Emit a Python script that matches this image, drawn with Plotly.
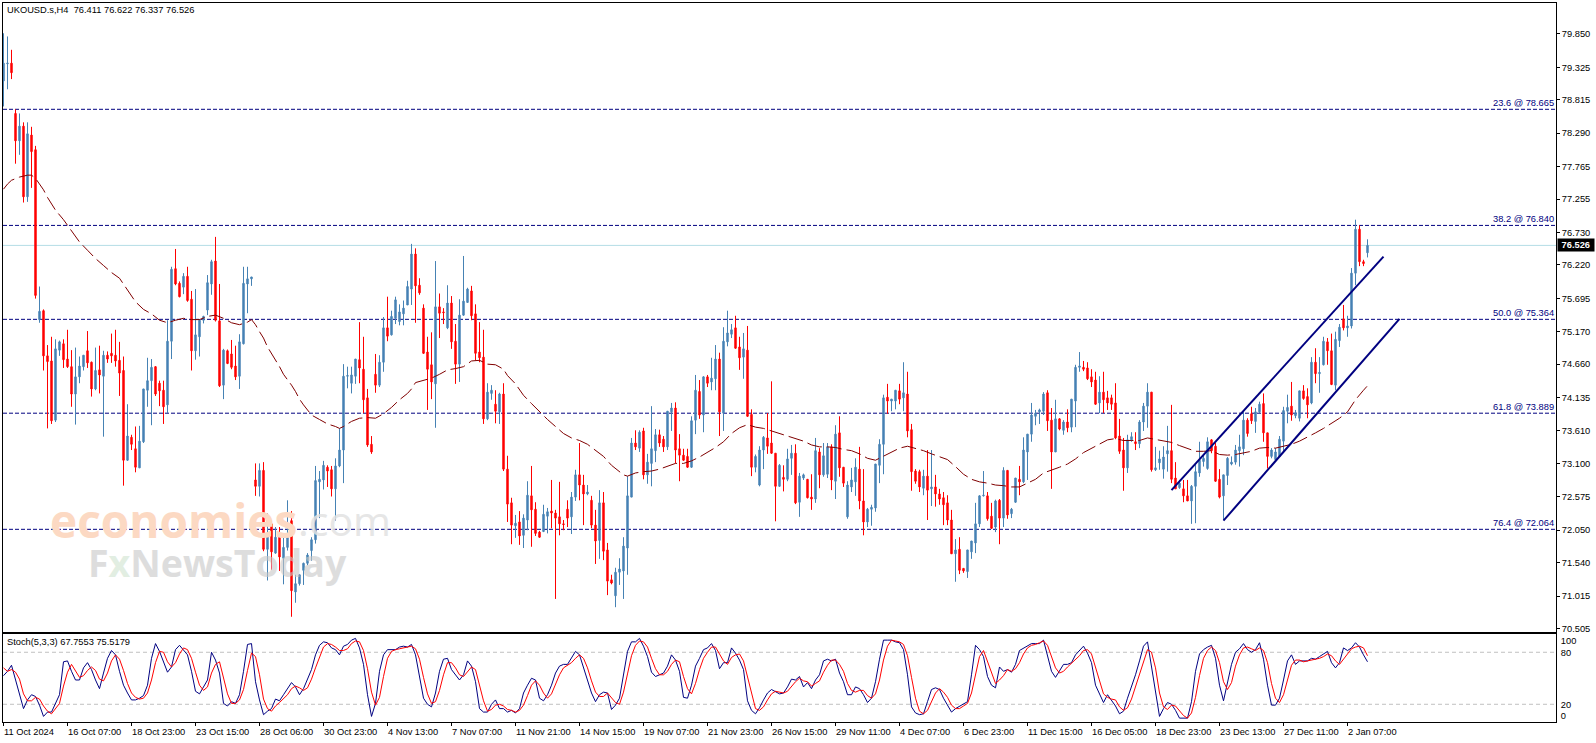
import plotly.graph_objects as go

opens = [
79.11,79.38,79.39,78.60,78.17,78.40,77.29,78.26,78.03,75.36,
75.50,74.79,74.71,73.78,74.88,74.98,74.74,74.62,74.19,74.46,
74.62,74.87,74.69,74.27,74.57,74.47,74.80,74.83,74.80,74.72,
74.56,73.15,73.51,73.33,73.03,73.44,74.25,74.40,74.62,74.36,
74.25,74.02,75.02,76.16,75.93,75.87,76.04,75.68,74.87,75.09,
75.35,75.51,75.92,76.28,75.34,74.33,74.87,74.82,74.63,74.47,
74.98,75.92,76.00,72.84,72.74,72.99,71.75,72.15,71.69,71.94,
71.61,71.78,72.20,71.08,71.21,71.42,71.53,71.73,71.90,72.81,
72.84,73.04,73.00,72.70,73.06,73.31,74.47,74.36,74.47,74.73,
74.58,74.13,73.40,74.50,74.33,74.69,75.23,75.12,75.38,75.33,
75.45,75.59,75.84,76.39,75.90,75.54,74.85,74.65,74.35,75.56,
75.48,75.23,75.62,75.02,74.66,75.43,75.63,75.81,75.45,74.85,
74.77,73.80,74.20,74.03,73.91,74.19,73.01,72.48,72.12,72.18,
71.97,72.21,72.59,72.38,72.02,72.03,72.27,72.35,72.32,72.26,
72.15,72.38,72.26,72.57,72.92,72.76,72.62,72.52,72.13,71.89,
72.48,71.74,71.27,71.02,71.39,71.41,71.77,72.57,73.42,73.34,
73.61,72.92,73.10,73.30,73.55,73.48,73.36,73.91,73.97,73.33,
73.23,73.21,73.04,73.78,74.23,73.86,74.46,74.38,74.43,74.74,
73.89,75.01,75.13,75.23,74.93,74.77,74.88,73.87,73.04,72.76,
73.31,73.50,73.42,73.26,72.74,72.88,72.85,73.18,73.26,72.49,
72.87,72.85,72.57,72.54,73.28,72.92,72.93,73.36,72.82,73.58,
73.04,72.26,72.73,72.81,73.01,72.51,72.18,72.38,72.40,73.07,
73.40,74.14,74.08,74.08,74.24,74.13,74.19,73.63,72.98,72.97,
72.71,72.90,72.70,72.73,72.62,72.56,72.48,72.21,71.68,71.75,
71.45,71.40,71.71,71.85,72.15,72.59,72.59,72.27,72.10,72.52,
72.24,72.99,72.31,72.49,72.85,72.81,73.28,73.56,73.84,73.91,
73.92,74.21,73.78,73.28,73.80,73.62,73.75,73.67,74.08,74.61,
74.61,74.60,74.46,74.41,74.05,74.22,74.13,74.13,74.05,73.53,
73.31,73.03,73.47,73.44,73.41,73.75,74.00,74.22,73.00,73.11,
73.01,73.25,73.30,72.87,72.72,72.70,72.59,72.51,72.74,72.95,
73.13,73.02,73.47,73.37,72.85,72.59,72.91,73.09,73.12,73.30,
73.33,73.78,73.88,73.76,73.91,74.04,73.58,73.21,73.16,73.21,
73.45,73.92,74.00,73.85,73.81,74.24,74.15,74.05,74.69,74.51,
74.65,75.01,74.87,74.33,75.03,75.37,75.23,75.26,76.09,76.78,
76.27,76.411]

highs = [
79.86,79.81,79.60,78.665,78.60,78.46,78.46,78.39,78.09,75.88,
75.52,74.96,75.09,75.05,75.03,75.05,75.20,74.88,74.92,74.78,
74.80,75.18,74.70,74.92,74.95,74.87,74.86,75.14,75.20,75.01,
74.78,74.03,73.55,73.68,73.69,74.27,74.76,74.74,74.63,74.40,
74.40,75.35,76.19,76.47,75.96,76.09,76.19,75.81,75.84,75.37,
75.42,76.06,76.30,76.66,75.92,74.90,74.89,75.04,74.95,75.13,
76.19,76.19,76.03,73.10,73.10,73.12,72.32,72.20,72.10,72.10,
71.95,72.52,72.35,71.35,71.36,71.54,71.69,71.94,73.06,72.98,
73.14,73.07,73.06,73.18,73.65,74.66,74.62,74.62,74.74,75.32,
75.09,74.27,73.53,74.82,74.80,75.40,75.72,75.50,75.72,75.60,
75.66,75.97,76.55,76.48,76.01,75.60,75.09,75.16,76.28,75.77,
75.54,75.90,75.73,75.29,75.68,76.36,75.86,75.89,75.60,75.32,
75.20,74.36,74.33,74.25,74.21,74.36,73.22,72.56,72.29,72.35,
72.30,72.82,73.06,72.49,72.04,72.45,72.40,72.84,72.37,72.81,
72.21,72.52,72.65,73.00,73.42,72.92,72.76,72.59,72.37,72.68,
72.65,71.85,71.35,71.46,71.61,71.94,72.90,73.50,73.62,73.62,
73.66,73.25,74.00,73.64,73.63,73.53,73.92,74.05,74.06,73.56,
73.33,73.33,73.84,74.49,74.41,74.47,74.49,74.76,74.96,74.84,
75.24,75.50,75.29,75.42,75.09,75.15,75.26,73.95,73.24,73.37,
73.53,73.89,74.39,73.26,73.09,73.07,73.33,73.39,73.40,72.95,
72.94,72.85,72.93,73.50,73.34,73.42,73.42,73.40,73.70,73.84,
73.04,72.82,73.03,73.18,73.36,73.01,72.40,72.45,73.09,73.48,
74.18,74.35,74.11,74.25,74.35,74.69,74.54,73.72,73.01,73.00,
73.00,73.31,73.31,72.92,72.70,72.65,72.60,72.37,71.91,71.94,
71.45,71.74,71.88,72.48,72.60,72.98,72.65,72.48,72.53,72.54,
73.04,72.99,72.40,72.87,73.06,73.51,73.56,74.05,73.94,73.96,
74.22,74.25,73.97,74.10,73.81,73.78,73.95,74.11,74.65,74.85,
74.71,74.69,74.58,74.54,74.47,74.54,74.24,74.18,74.36,73.80,
73.50,73.55,73.59,73.59,73.78,74.05,74.36,74.22,73.36,73.30,
73.37,73.69,74.02,73.12,72.84,72.84,72.84,72.76,73.09,73.44,
73.23,73.51,73.48,73.42,73.01,72.92,73.20,73.21,73.39,73.55,
73.91,73.81,73.99,73.97,74.07,74.20,73.58,73.34,73.34,73.53,
73.99,74.18,74.38,73.94,74.24,74.33,74.28,74.77,74.91,74.77,
75.09,75.07,75.14,75.17,75.29,75.59,75.42,76.17,76.93,76.84,
76.30,76.622]

lows = [
78.71,78.98,79.14,77.81,77.95,77.20,77.21,77.43,75.69,75.31,
74.56,73.65,73.72,73.75,74.79,74.60,74.60,73.99,73.71,74.36,
74.56,74.60,74.15,74.25,74.20,73.52,74.68,74.68,74.62,74.16,
72.75,73.14,73.31,72.96,73.03,73.42,73.99,73.70,74.16,74.00,
73.72,73.89,74.74,75.90,75.71,75.76,75.64,74.56,74.73,74.78,
75.30,75.43,75.75,75.33,74.30,74.11,74.66,74.58,74.41,74.27,
74.97,75.46,75.89,72.59,72.58,71.72,71.26,71.43,71.68,71.41,
71.20,71.73,70.69,70.91,71.18,71.19,71.50,71.57,71.84,72.24,
72.69,72.73,72.58,72.20,73.04,72.79,74.28,74.20,74.35,74.36,
73.89,73.36,73.25,74.21,74.30,74.54,75.02,75.11,75.29,75.27,
75.27,75.59,75.59,75.31,75.75,74.82,73.94,74.11,73.66,75.07,
75.29,75.21,74.90,74.35,74.38,75.42,75.63,75.35,74.72,74.69,
73.72,73.78,74.10,73.73,73.72,72.98,72.18,71.83,71.93,71.82,
71.77,72.05,71.79,71.96,71.93,72.02,72.00,72.08,70.97,71.97,
72.05,72.10,71.99,72.51,72.52,72.13,72.60,72.08,71.52,71.60,
71.58,71.03,71.20,70.84,71.19,70.97,71.35,72.57,73.31,73.28,
72.85,72.78,72.74,73.12,73.36,73.28,73.31,73.61,73.10,72.82,
73.14,73.03,73.03,73.56,73.80,73.59,74.30,74.25,74.25,73.53,
73.61,74.94,75.07,74.90,74.57,74.43,73.83,72.90,72.96,72.74,
73.01,73.25,73.25,72.19,72.73,72.66,72.82,72.92,72.46,72.26,
72.84,72.55,72.37,72.48,72.71,72.89,72.87,72.68,72.54,72.89,
72.73,72.23,72.65,72.59,72.38,71.97,72.10,72.12,72.34,72.79,
72.93,73.88,73.92,73.95,74.03,73.92,73.51,72.67,72.78,72.65,
72.60,72.21,72.43,72.42,72.45,72.13,72.13,71.68,71.24,71.36,
71.38,71.30,71.60,71.69,72.10,72.58,72.20,72.07,72.02,71.83,
72.10,72.23,72.24,72.48,72.60,72.79,72.84,73.44,73.70,73.72,
73.86,73.61,72.70,73.28,73.62,73.55,73.59,73.59,73.67,74.54,
74.55,74.41,74.30,74.02,73.89,73.89,73.94,73.94,73.48,73.25,
72.67,72.95,73.44,73.31,73.34,73.61,73.66,72.97,72.98,73.00,
72.86,72.97,72.79,72.70,72.70,72.49,72.51,72.15,72.16,72.89,
73.05,73.00,73.26,72.81,72.55,72.21,72.76,73.07,73.08,73.05,
73.23,73.52,73.72,73.58,73.89,73.44,73.02,73.18,73.15,73.21,
73.28,73.73,73.77,73.81,73.76,74.10,73.81,74.03,74.36,74.21,
74.64,74.65,74.33,74.25,74.93,75.19,75.09,75.22,75.90,76.20,
76.20,76.337]

closes = [
79.39,79.39,79.24,78.17,78.40,77.29,78.28,78.00,75.74,75.49,
74.79,74.70,73.77,74.90,75.01,74.73,74.62,74.19,74.46,74.63,
74.80,74.68,74.27,74.56,74.49,74.80,74.74,74.79,74.71,74.52,
73.15,73.53,73.40,73.04,73.45,74.27,74.40,74.61,74.19,74.24,
73.99,75.02,76.15,75.92,75.72,76.04,75.66,74.87,75.12,75.35,
75.41,75.94,76.27,75.35,74.32,74.88,74.67,74.61,74.46,75.01,
75.93,76.00,76.03,72.74,72.99,71.75,72.00,71.71,71.94,71.63,
71.78,71.94,71.10,71.21,71.35,71.53,71.66,71.90,72.83,72.85,
73.07,72.98,72.70,73.06,73.31,74.47,74.48,74.49,74.74,74.60,
74.10,73.39,73.28,74.33,74.69,75.23,75.10,75.41,75.67,75.48,
75.54,75.88,76.39,75.89,75.78,74.83,74.58,74.38,75.56,75.46,
75.47,75.62,75.01,74.66,75.43,75.65,75.84,75.42,74.83,74.76,
73.80,74.22,74.25,73.92,74.19,73.01,72.46,72.13,72.16,71.96,
72.24,72.60,72.37,72.00,71.94,72.30,72.34,72.32,72.24,72.15,
72.14,72.24,72.57,72.92,72.76,72.62,72.65,72.13,71.88,72.48,
71.72,71.25,71.22,71.39,71.44,71.80,72.59,73.42,73.36,73.59,
72.92,73.12,73.33,73.55,73.42,73.36,73.92,73.97,73.31,73.23,
73.15,73.04,73.77,74.25,73.86,74.46,74.36,74.44,74.74,73.91,
75.02,75.15,75.20,74.91,74.76,74.90,73.84,73.04,73.21,73.31,
73.51,73.37,73.26,72.74,73.07,72.85,73.17,73.26,72.48,72.90,
72.92,72.56,72.54,73.30,72.92,73.22,73.36,72.84,73.56,73.03,
72.79,72.76,72.84,73.04,72.51,72.18,72.38,72.41,73.09,73.40,
74.13,74.08,74.11,74.25,74.11,74.21,73.61,72.97,72.82,72.73,
72.90,72.68,72.73,72.62,72.54,72.45,72.21,71.68,71.74,71.42,
71.41,71.74,71.88,72.15,72.59,72.60,72.23,72.08,72.51,72.24,
72.99,72.29,72.38,72.87,72.81,73.31,73.56,73.86,73.89,73.94,
74.19,73.77,73.28,73.80,73.64,73.75,73.66,74.11,74.61,74.63,
74.58,74.43,74.38,74.03,74.22,74.10,74.05,74.03,73.50,73.29,
73.03,73.47,73.52,73.41,73.75,74.00,74.22,73.00,73.03,73.17,
73.20,73.30,72.85,72.70,72.79,72.59,72.51,72.74,72.97,73.15,
73.18,73.44,73.30,72.82,72.57,72.92,73.18,73.12,73.31,73.36,
73.78,73.57,73.77,73.91,74.03,73.58,73.21,73.31,73.28,73.48,
73.93,73.98,73.86,73.89,74.24,74.12,74.02,74.69,74.51,74.53,
75.02,74.87,74.34,75.05,75.24,75.23,75.26,76.09,76.78,76.27,
76.24,76.526]

ma_bar = [0,1,2,4,6,7,8,10,11,13,15,17,19,21,23,25,27,29,31,33,35,37,39,41,43,45,47,49,51,53,55,57,59,61,62,63,
64,65,66,67,68,69,70,71,72,73,74,75,77,79,81,83,84,85,87,89,91,93,95,97,99,
101,102,103,105,107,109,111,113,115,117,119,121,123,125,126,128,130,132,134,136,138,140,142,144,146,148,150,152,154,155,156,158,160,162,164,166,168,170,172,174,176,178,180,182,184,186,188,190,192,194,196,198,
200,202,204,206,208,210,212,214,216,218,220,222,224,226,228,230,232,234,236,238,240,242,244,246,248,250,252,254,256,258,260,262,264,266,268,270,272,274,276,278,280,282,284,286,288,290,292,294,296,298,
300,302,304,306,308,310,312,314,316,318,320,322,324,326,328,330,332,334,336,338,340,341]
ma_val = [77.41,77.49,77.55,77.60,77.63,77.63,77.58,77.40,77.28,77.08,76.93,76.75,76.58,76.45,76.32,76.21,76.10,76.01,75.83,75.64,75.52,75.45,75.35,75.31,75.35,75.38,75.36,75.36,75.41,75.43,75.38,75.31,75.28,75.32,75.36,75.28,
75.17,75.07,74.93,74.83,74.73,74.62,74.50,74.42,74.33,74.23,74.11,74.02,73.86,73.79,73.72,73.68,73.65,73.68,73.76,73.81,73.82,73.81,73.88,73.98,74.10,
74.20,74.27,74.37,74.41,74.44,74.50,74.57,74.59,74.62,74.71,74.72,74.66,74.65,74.58,74.48,74.35,74.17,74.04,73.91,73.79,73.68,73.57,73.50,73.46,73.40,73.30,73.21,73.07,72.96,72.92,72.90,72.95,72.97,72.98,73.01,73.06,73.10,73.10,73.14,73.20,73.27,73.35,73.44,73.57,73.66,73.71,73.67,73.65,73.61,73.57,73.54,73.49,
73.45,73.39,73.36,73.36,73.35,73.32,73.30,73.25,73.18,73.15,73.21,73.27,73.34,73.37,73.34,73.30,73.25,73.21,73.16,73.05,72.93,72.85,72.81,72.79,72.76,72.75,72.73,72.73,72.79,72.85,72.95,72.99,73.04,73.09,73.17,73.27,73.34,73.41,73.47,73.49,73.46,73.46,73.46,73.50,73.48,73.46,73.43,73.38,73.33,73.29,
73.29,73.30,73.24,73.23,73.24,73.26,73.29,73.34,73.35,73.34,73.37,73.40,73.45,73.51,73.58,73.65,73.73,73.81,73.91,74.10,74.25,74.32]

stoch_k = [
53,58,65,48,33,15,25,31,29,19, 6,11,11,22,31,69,70,58,48,48,
62,68,60,48,38,56,73,82,77,58, 42,33,25,25,27,30,42,73,90,81,
70,57,63,83,88,83,77,58,35,32, 40,48,80,71,56,21,18,23,21,31,
58,89,90,46,25,8,12,15,26,24, 31,38,45,40,31,38,48,60,77,88,
92,91,85,83,77,87,89,94,96,85, 66,31,6,21,58,77,83,83,83,86,
87,86,89,77,50,27,20,17,33,58, 72,73,60,54,48,54,70,64,46,15,
11,11,20,25,15,15,11,13,10,15, 33,42,50,48,27,24,31,42,56,64,
66,66,73,81,77,62,46,33,23,31, 34,33,14,19,27,56,81,92,92,96,
87,75,57,52,54,56,64,77,71,58, 28,27,42,64,73,83,85,90,82,61,
68,68,85,79,71,60,24,13,9,16, 25,33,37,34,32,33,40,49,48,52,
40,45,38,48,54,70,72,70,72,56, 46,31,31,40,38,31,22,27,46,72,
94,94,94,92,91,83,54,17,10,8, 9,23,37,39,37,27,19,11,15,18,
21,23,54,88,83,75,52,42,39,63, 58,60,57,66,82,85,88,90,90,90,
94,77,58,51,58,66,66,68,77,82, 87,79,68,42,31,22,31,25,18,9,
12,27,40,54,70,87,92,62,31,6, 15,22,20,13,4,4,4,23,58,78,
83,86,88,73,42,24,46,66,80,84, 90,83,80,83,91,72,42,19,19,27,
48,70,77,66,70,70,70,73,72,75, 78,81,68,62,68,85,82,85,91,86,
77,69]

stoch_d = [
62,58,60,57,49,32,24,24,28,26, 18,12,9,15,21,41,57,66,59,51,
53,59,63,59,49,47,56,70,77,72, 59,44,33,28,26,27,33,48,68,81,
80,69,63,68,78,85,83,73,57,42, 36,40,56,66,69,49,32,21,21,25,
37,59,79,75,54,26,15,12,18,22, 27,31,38,41,39,36,39,49,62,75,
86,90,89,86,82,82,84,90,93,92, 82,61,34,19,28,52,73,81,83,84,
85,86,87,84,72,51,32,21,23,36, 54,68,68,62,54,52,57,63,60,42,
24,12,14,19,20,18,14,13,11,13, 19,30,42,47,42,33,27,32,43,54,
62,65,68,73,77,73,62,47,34,29, 29,33,27,22,20,34,55,76,88,93,
92,86,73,61,54,54,58,66,71,69, 52,38,32,44,60,73,80,86,86,78,
70,66,74,77,78,70,52,32,15,13, 17,25,32,35,34,33,35,41,46,50,
47,46,41,44,47,57,65,71,71,66, 58,44,36,34,36,36,30,27,32,48,
71,87,94,93,92,89,76,51,27,12, 9,13,23,33,38,34,28,19,15,15,
18,21,33,55,75,82,70,56,44,48, 53,60,58,61,68,78,85,88,89,91,
93,88,76,62,56,58,63,67,71,76, 82,83,78,63,47,32,28,26,25,17,
13,16,26,40,55,70,83,80,62,33, 17,14,19,18,12,7,4,10,28,53,
73,82,86,82,68,46,37,45,64,77, 85,86,84,82,85,82,68,44,27,22,
31,48,65,71,71,69,70,71,72,73, 75,78,76,70,66,72,78,84,86,87,
85,76]

fib_levels = [78.665, 76.840, 75.364, 73.889, 72.064]
fib_labels = ["23.6 @ 78.665", "38.2 @ 76.840", "50.0 @ 75.364", "61.8 @ 73.889", "76.4 @ 72.064"]
bid_price = 76.526

channel_upper_bar = [292, 345]
channel_upper_price = [72.68, 76.35]
channel_lower_bar = [305, 349]
channel_lower_price = [72.20, 75.37]

price_ticks = [79.850,79.325,78.815,78.290,77.765,77.255,76.730,76.220,75.695,75.170,74.660,74.135,73.610,73.100,72.575,72.050,71.540,71.015,70.505]
stoch_tick_pos = [93.3, 80, 20, 6.8]
stoch_tick_text = ["100", "80", "20", "0"]
stoch_levels = [80, 20]

time_tick_bar = list(range(0, 337, 16))
time_tick_text = ["11 Oct 2024","16 Oct 07:00","18 Oct 23:00","23 Oct 15:00","28 Oct 06:00","30 Oct 23:00","4 Nov 13:00","7 Nov 07:00","11 Nov 21:00","14 Nov 15:00","19 Nov 07:00","21 Nov 23:00","26 Nov 15:00","29 Nov 11:00","4 Dec 07:00","6 Dec 23:00","11 Dec 15:00","16 Dec 05:00","18 Dec 23:00","23 Dec 13:00","27 Dec 11:00","2 Jan 07:00"]

assert len(opens)==len(highs)==len(lows)==len(closes)==342, (len(opens),len(highs),len(lows),len(closes))
assert len(stoch_k)==342 and len(stoch_d)==342, (len(stoch_k),len(stoch_d))
assert len(ma_bar)==len(ma_val), (len(ma_bar),len(ma_val))

W, H = 1596, 743
FONT = "Liberation Sans"
TXT = 9.3
NAVY = "#000080"
bars = list(range(len(opens)))

def px_x(p): return p / W
def px_y(p): return 1 - p / H

x_range = [-0.125, 388.125]
main_top, main_bot = 2.5, 631.5
sub_top, sub_bot = 633.7, 722.3
px_per_price = 63.63
y_range = [78.665 - (main_bot - 109.3) / px_per_price, 78.665 + (109.3 - main_top) / px_per_price]

fig = go.Figure()
fig.add_trace(go.Candlestick(
    x=bars, open=opens, high=highs, low=lows, close=closes,
    increasing=dict(line=dict(color="#4682B4", width=1), fillcolor="#4682B4"),
    decreasing=dict(line=dict(color="#FF0000", width=1), fillcolor="#FF0000"),
    whiskerwidth=0, showlegend=False, xaxis="x", yaxis="y"))
fig.add_trace(go.Scatter(x=ma_bar, y=ma_val, mode="lines", showlegend=False,
    line=dict(color="#800000", width=1, dash="15px,5px"), xaxis="x", yaxis="y"))
fig.add_trace(go.Scatter(x=channel_upper_bar, y=channel_upper_price, mode="lines", showlegend=False,
    line=dict(color=NAVY, width=2), xaxis="x", yaxis="y"))
fig.add_trace(go.Scatter(x=channel_lower_bar, y=channel_lower_price, mode="lines", showlegend=False,
    line=dict(color=NAVY, width=2), xaxis="x", yaxis="y"))
fig.add_trace(go.Scatter(x=bars, y=stoch_k, mode="lines", showlegend=False,
    line=dict(color=NAVY, width=1), xaxis="x2", yaxis="y2"))
fig.add_trace(go.Scatter(x=bars, y=stoch_d, mode="lines", showlegend=False,
    line=dict(color="#FF0000", width=1), xaxis="x2", yaxis="y2"))

shapes = []
for lv in fib_levels:
    shapes.append(dict(type="line", xref="x domain", yref="y", x0=0, x1=1, y0=lv, y1=lv, layer="below",
                       line=dict(color=NAVY, width=1, dash="4px,2px")))
shapes.append(dict(type="line", xref="x domain", yref="y", x0=0, x1=1, y0=bid_price, y1=bid_price, layer="below",
                   line=dict(color="#B5DDE6", width=1)))
for lv in stoch_levels:
    shapes.append(dict(type="line", xref="x2 domain", yref="y2", x0=0, x1=1, y0=lv, y1=lv, layer="below",
                       line=dict(color="#C0C0C0", width=1, dash="4px,3px")))

ann = []
for lv, txt in zip(fib_levels, fib_labels):
    ann.append(dict(xref="paper", yref="y", x=px_x(1555), y=lv, text=txt, showarrow=False, xanchor="right", yanchor="bottom",
                    font=dict(family=FONT, size=TXT, color=NAVY), borderpad=0))
for b, txt in zip(time_tick_bar, time_tick_text):
    ann.append(dict(xref="x2", yref="paper", x=b, y=px_y(732), text=txt, showarrow=False, xanchor="left", yanchor="middle",
                    xshift=-1, font=dict(family=FONT, size=TXT, color="black"), borderpad=0))
ann.append(dict(xref="paper", yref="paper", x=px_x(4.5), y=px_y(10), text="UKOUSD.s,H4&nbsp;&nbsp;76.411 76.622 76.337 76.526", showarrow=False,
                xanchor="left", yanchor="middle", font=dict(family=FONT, size=TXT, color="black")))
ann.append(dict(xref="paper", yref="paper", x=px_x(4.5), y=px_y(642), text="Stoch(5,3,3) 67.7553 75.5179", showarrow=False,
                xanchor="left", yanchor="middle", font=dict(family=FONT, size=TXT, color="black")))
ann.append(dict(xref="paper", yref="y", x=px_x(1557), y=bid_price, text="<b>&nbsp;76.526&nbsp;</b>", showarrow=False,
                xanchor="left", yanchor="middle", bgcolor="black", font=dict(family=FONT, size=TXT, color="white"), borderpad=1))
# watermark
ann.append(dict(xref="paper", yref="paper", x=px_x(48), y=px_y(520), text="<b>economies</b>", showarrow=False, xanchor="left", yanchor="middle",
                font=dict(family="Open Sans", size=46, color="#FCD9C3")))
ann.append(dict(xref="paper", yref="paper", x=px_x(296), y=px_y(520), text=".com", showarrow=False, xanchor="left", yanchor="middle",
                font=dict(family="Open Sans", size=41, color="#E2E2E2"), opacity=0.85))
ann.append(dict(xref="paper", yref="paper", x=px_x(86), y=px_y(562), text='<b>F<span style="color:#CFE3CF">x</span>NewsToday</b>', showarrow=False,
                xanchor="left", yanchor="middle", font=dict(family="Open Sans", size=37.5, color="#C8C8C8"), opacity=0.6))

axis_common = dict(showgrid=False, zeroline=False, showline=True, linecolor="black", linewidth=1, mirror=True, automargin=False)
fig.update_layout(
    width=W, height=H, margin=dict(l=0, r=0, t=0, b=0), paper_bgcolor="white", plot_bgcolor="white",
    showlegend=False, boxgap=0.5, dragmode=False, hovermode=False,
    font=dict(family=FONT, size=TXT, color="black"),
    xaxis=dict(domain=[px_x(3), px_x(1556)], range=x_range, rangeslider=dict(visible=False), showticklabels=False, ticks="",
               anchor="y", **axis_common),
    yaxis=dict(domain=[px_y(main_bot), px_y(main_top)], range=y_range, side="right", anchor="x", tickmode="array",
               tickvals=price_ticks, ticktext=[f"{v:.3f}" for v in price_ticks], ticks="outside", ticklen=3, tickcolor="black",
               tickfont=dict(family=FONT, size=TXT), **axis_common),
    xaxis2=dict(domain=[px_x(3), px_x(1556)], range=x_range, anchor="y2", tickmode="array", tickvals=time_tick_bar,
                ticktext=["" for _ in time_tick_bar], ticks="outside", ticklen=3, tickcolor="black", **axis_common),
    yaxis2=dict(domain=[px_y(sub_bot), px_y(sub_top)], range=[-0.8, 101.4], side="right", anchor="x2", tickmode="array",
                tickvals=stoch_tick_pos, ticktext=stoch_tick_text, ticks="outside", ticklen=2, tickcolor="white",
                tickfont=dict(family=FONT, size=TXT), **axis_common),
    shapes=shapes, annotations=ann)

fig.write_html("out.html", post_script="document.body.style.margin='0';document.body.style.overflow='hidden';",
               config={"displayModeBar": False, "staticPlot": True})
